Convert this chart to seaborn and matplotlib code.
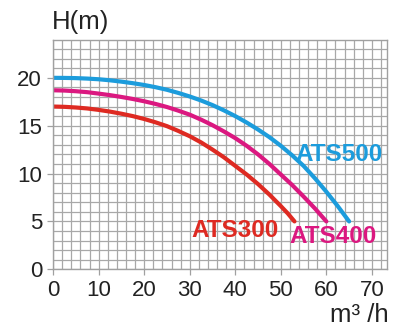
import matplotlib
matplotlib.use("Agg")
import matplotlib.pyplot as plt
from matplotlib.ticker import MultipleLocator
import seaborn as sns
import pandas as pd

sns.set_theme(style="white")
plt.rcParams['font.family'] = ['Liberation Sans', 'DejaVu Sans']

x500 = [0, 2.5, 5, 7.5, 10, 12.5, 15, 17.5, 20, 22.5, 25, 27.5, 30, 32.5, 35,
        37.5, 40, 42.5, 45, 47.5, 50, 52.5, 55, 57.5, 60, 62.5, 65]
h500 = [20.0, 19.99, 19.97, 19.92, 19.85, 19.74, 19.6, 19.44, 19.25, 19.02,
        18.75, 18.42, 18.05, 17.63, 17.15, 16.6, 16.0, 15.33, 14.6, 13.8,
        12.9, 11.9, 10.8, 9.5, 8.1, 6.6, 5.0]
x400 = [0, 2.5, 5, 7.5, 10, 12.5, 15, 17.5, 20, 22.5, 25, 27.5, 30, 32.5, 35,
        37.5, 40, 42.5, 45, 47.5, 50, 52.5, 55, 57.5, 60]
h400 = [18.7, 18.67, 18.6, 18.5, 18.35, 18.19, 18.0, 17.79, 17.55, 17.27,
        16.95, 16.57, 16.15, 15.63, 15.05, 14.4, 13.7, 12.9, 12.0, 11.0,
        9.9, 8.8, 7.6, 6.35, 5.0]
x300 = [0, 2.5, 5, 7.5, 10, 12.5, 15, 17.5, 20, 22.5, 25, 27.5, 30, 32.5, 35,
        37.5, 40, 42.5, 45, 47.5, 50, 51.5, 53]
h300 = [17.0, 16.97, 16.9, 16.8, 16.65, 16.47, 16.25, 16.0, 15.7, 15.35,
        14.95, 14.45, 13.9, 13.25, 12.5, 11.7, 10.8, 9.9, 8.9, 7.8,
        6.6, 5.85, 5.0]

models = ["ATS300", "ATS400", "ATS500"]
colors = {"ATS300": "#de2a22", "ATS400": "#db1880", "ATS500": "#1c9cdc"}
label_pos = {"ATS300": (30.3, 4.1), "ATS400": (51.8, 3.4), "ATS500": (53.2, 12.0)}

df = pd.concat([
    pd.DataFrame({"Q": x300, "H": h300, "model": "ATS300"}),
    pd.DataFrame({"Q": x400, "H": h400, "model": "ATS400"}),
    pd.DataFrame({"Q": x500, "H": h500, "model": "ATS500"}),
])

fig = plt.figure(figsize=(4.09, 3.36), dpi=100)
ax = fig.add_axes([0.130, 0.1985, 0.816, 0.681])

sns.lineplot(data=df, x="Q", y="H", hue="model", palette=colors, linewidth=3.0,
             legend=False, ax=ax, sort=True, estimator=None)

ax.set_xlim(0, 73.3)
ax.set_ylim(0, 23.9)
ax.xaxis.set_major_locator(MultipleLocator(10))
ax.xaxis.set_minor_locator(MultipleLocator(2))
ax.yaxis.set_major_locator(MultipleLocator(5))
ax.yaxis.set_minor_locator(MultipleLocator(1))
ax.grid(True, which="both", color="#a8a8a8", linewidth=0.9)
ax.set_axisbelow(True)
for s in ax.spines.values():
    s.set_color("#a0a0a0")
    s.set_linewidth(1.0)
ax.tick_params(axis="both", which="major", direction="out", length=4, width=0.9,
               color="#a0a0a0", labelsize=16, labelcolor="#222222", pad=4,
               bottom=True, left=True)
ax.tick_params(axis="both", which="minor", length=0)
ax.set_xlabel("")
ax.set_ylabel("")

for m in models:
    x, y = label_pos[m]
    ax.text(x, y, m, color=colors[m], fontsize=17.5, fontweight="bold",
            ha="left", va="center")

fig.text(52 / 409, 1 - 22 / 336, "H(m)", fontsize=18.5, color="#222222",
         ha="left", va="center")
fig.text(389 / 409, 1 - 315 / 336, "m³ /h", fontsize=18.5, color="#222222",
         ha="right", va="center")

fig.savefig("out.png", dpi=100)
